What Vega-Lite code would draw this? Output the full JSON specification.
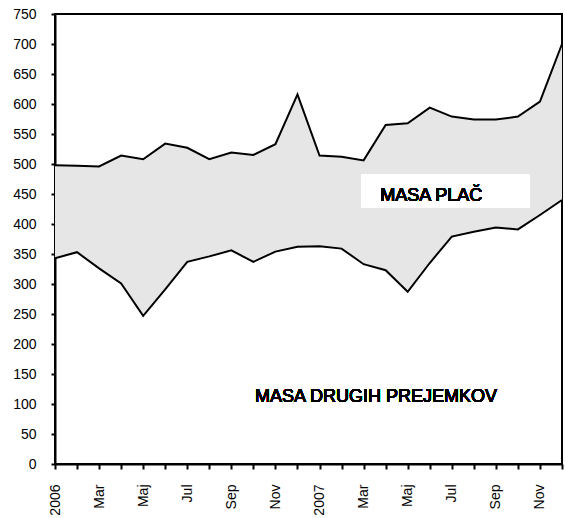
{
  "$schema": "https://vega.github.io/schema/vega-lite/v6.json",
  "autosize": "none",
  "width": 507,
  "height": 450,
  "padding": {"left": 55, "top": 14, "right": 3, "bottom": 54},
  "background": "white",
  "config": {
    "view": {"stroke": "black", "strokeWidth": 2},
    "font": "Liberation Sans",
    "axis": {
      "labelFont": "Liberation Sans",
      "labelFontSize": 14,
      "labelColor": "black",
      "domainColor": "black",
      "domainWidth": 2,
      "ticks": true,
      "tickColor": "#000000",
      "tickOpacity": 1,
      "tickWidth": 2,
      "grid": false,
      "title": null,
      "zindex": 1,
      "labelOverlap": false,
      "labelFlush": false
    },
    "axisX": {"ticks": true, "tickSize": 5, "labelPadding": 15, "labelAngle": -90, "tickCount": 23},
    "axisY": {"ticks": true, "tickSize": 4, "labelPadding": 15, "tickCount": 15}
  },
  "data": {
    "values": [
      {"i": 0, "total": 498, "other": 343},
      {"i": 1, "total": 497, "other": 353},
      {"i": 2, "total": 496, "other": 326},
      {"i": 3, "total": 514, "other": 301},
      {"i": 4, "total": 508, "other": 247},
      {"i": 5, "total": 534, "other": 291},
      {"i": 6, "total": 527, "other": 337},
      {"i": 7, "total": 508, "other": 346},
      {"i": 8, "total": 519, "other": 356},
      {"i": 9, "total": 515, "other": 337},
      {"i": 10, "total": 533, "other": 354},
      {"i": 11, "total": 616, "other": 362},
      {"i": 12, "total": 514, "other": 363},
      {"i": 13, "total": 512, "other": 359},
      {"i": 14, "total": 506, "other": 333},
      {"i": 15, "total": 565, "other": 323},
      {"i": 16, "total": 568, "other": 287},
      {"i": 17, "total": 594, "other": 335},
      {"i": 18, "total": 579, "other": 379},
      {"i": 19, "total": 574, "other": 387},
      {"i": 20, "total": 574, "other": 394},
      {"i": 21, "total": 579, "other": 391},
      {"i": 22, "total": 604, "other": 415},
      {"i": 23, "total": 700, "other": 440}
    ]
  },
  "encoding": {
    "x": {
      "field": "i",
      "type": "quantitative",
      "scale": {"domain": [0, 23], "nice": false, "zero": false},
      "axis": {
        "ticks": true,
        "tickSize": 5,
        "tickWidth": 2,
        "tickColor": "#000000",
        "labelExpr": "['2006','','Mar','','Maj','','Jul','','Sep','','Nov','','2007','','Mar','','Maj','','Jul','','Sep','','Nov',''][datum.value]"
      }
    }
  },
  "layer": [
    {
      "mark": {"type": "area", "color": "#e6e6e6", "opacity": 1},
      "encoding": {
        "y": {
          "field": "total",
          "type": "quantitative",
          "scale": {"domain": [0, 750], "nice": false},
          "axis": {"ticks": true, "tickSize": 4, "tickWidth": 2, "tickColor": "#000000"}
        },
        "y2": {"field": "other"}
      }
    },
    {
      "mark": {"type": "line", "color": "black", "strokeWidth": 2},
      "encoding": {"y": {"field": "total", "type": "quantitative"}}
    },
    {
      "mark": {"type": "line", "color": "black", "strokeWidth": 2},
      "encoding": {"y": {"field": "other", "type": "quantitative"}}
    },
    {
      "mark": {"type": "rect", "color": "white"},
      "encoding": {
        "x": {"datum": 13.88, "type": "quantitative"},
        "x2": {"datum": 21.55},
        "y": {"datum": 483, "type": "quantitative"},
        "y2": {"datum": 428}
      }
    },
    {
      "mark": {"type": "text", "align": "left", "baseline": "middle", "fontSize": 18, "fontWeight": "normal", "color": "black", "font": "Liberation Sans"},
      "encoding": {
        "x": {"datum": 14.75, "type": "quantitative"},
        "y": {"datum": 447, "type": "quantitative"},
        "text": {"value": "MASA PLAČ"}
      }
    },
    {
      "mark": {"type": "text", "align": "left", "baseline": "middle", "fontSize": 18, "fontWeight": "normal", "color": "black", "font": "Liberation Sans"},
      "encoding": {
        "x": {"datum": 9.07, "type": "quantitative"},
        "y": {"datum": 112, "type": "quantitative"},
        "text": {"value": "MASA DRUGIH PREJEMKOV"}
      }
    }
  ]
}
